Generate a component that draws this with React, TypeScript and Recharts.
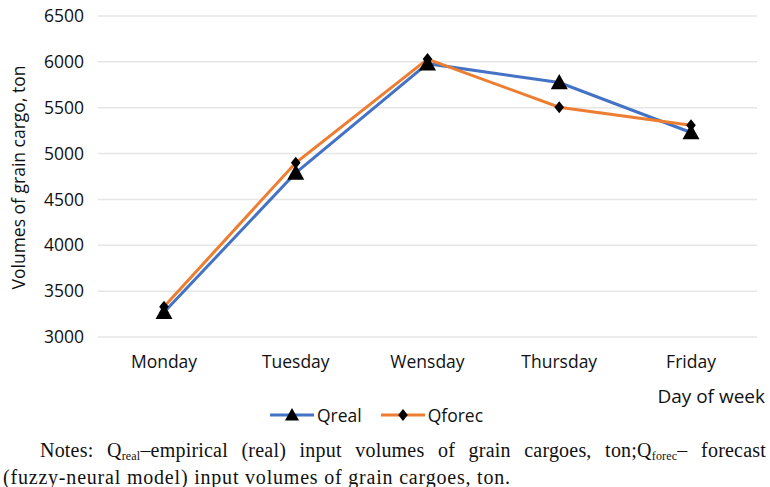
import { LineChart, Line, XAxis, YAxis, CartesianGrid, Legend } from 'recharts';

const days = ['Monday', 'Tuesday', 'Wensday', 'Thursday', 'Friday'];
const qReal = [3270, 4790, 5980, 5775, 5230];
const qForec = [3330, 4900, 6030, 5505, 5310];
const yTicks = [3000, 3500, 4000, 4500, 5000, 5500, 6000, 6500];

const data = days.map((day, i) => ({ day, qReal: qReal[i], qForec: qForec[i] }));

const BLUE = '#4472C4';
const ORANGE = '#ED7D31';
const FONT = '"Open Sans", "Noto Sans", sans-serif';
const SERIF = '"Liberation Serif", "Times New Roman", serif';
const TEXT = '#111';

const Triangle = ({ cx, cy, s = 8 }: { cx: number; cy: number; s?: number }) => (
    <polygon points={`${cx},${cy - s} ${cx - s},${cy + s * 0.8} ${cx + s},${cy + s * 0.8}`} fill="#000" />
);

const Diamond = ({ cx, cy, s = 6 }: { cx: number; cy: number; s?: number }) => (
    <polygon points={`${cx},${cy - s} ${cx + s * 0.8},${cy} ${cx},${cy + s} ${cx - s * 0.8},${cy}`} fill="#000" />
);

const triangleDot = (props: any) => <Triangle key={`t-${props.index}`} cx={props.cx} cy={props.cy} s={8.5} />;
const diamondDot = (props: any) => <Diamond key={`d-${props.index}`} cx={props.cx} cy={props.cy} />;

const LegendItem = ({ color, label, marker }: { color: string; label: string; marker: 'tri' | 'dia' }) => (
    <span style={{ display: 'inline-flex', alignItems: 'center', marginRight: 18 }}>
        <svg width={46} height={20}>
            <line x1={1} y1={10} x2={45} y2={10} stroke={color} strokeWidth={3} />
            {marker === 'tri' ? <Triangle cx={23} cy={10} s={7} /> : <Diamond cx={23} cy={10} s={6} />}
        </svg>
        <span style={{ marginLeft: 2 }}>{label}</span>
    </span>
);

const renderLegend = () => (
    <div
        style={{
            display: 'flex',
            justifyContent: 'center',
            alignItems: 'center',
            fontFamily: FONT,
            fontSize: 17.5,
            color: TEXT,
            height: 20,
        }}
    >
        <LegendItem color={BLUE} label="Qreal" marker="tri" />
        <LegendItem color={ORANGE} label="Qforec" marker="dia" />
    </div>
);

const subStyle = { fontSize: 12, verticalAlign: 'baseline', position: 'relative' as const, top: 3 };

export default function App() {
    return (
        <div style={{ position: 'absolute', left: 0, top: 0, width: 770, background: '#fff' }}>
            <LineChart width={770} height={430} data={data} margin={{ top: 16, right: 13, left: 0, bottom: 5 }}>
                <CartesianGrid vertical={false} stroke="#e6e6e6" strokeWidth={1.5} />
                <XAxis
                    dataKey="day"
                    height={68}
                    padding={{ left: 66, right: 66 }}
                    axisLine={false}
                    tickLine={false}
                    tickMargin={13}
                    tick={{ fontSize: 17.5, fill: TEXT, fontFamily: FONT }}
                    label={{
                        content: ({ viewBox }: any) => (
                            <text
                                x={viewBox.x + viewBox.width + 8}
                                y={viewBox.y + 66}
                                textAnchor="end"
                                fontSize={19}
                                fontFamily={FONT}
                                fill={TEXT}
                            >
                                Day of week
                            </text>
                        ),
                    }}
                />
                <YAxis
                    width={98}
                    domain={[3000, 6500]}
                    ticks={yTicks}
                    axisLine={false}
                    tickLine={false}
                    tickMargin={8}
                    tick={{ fontSize: 17.5, fill: TEXT, fontFamily: FONT }}
                    label={{
                        content: ({ viewBox }: any) => {
                            const cx = viewBox.x + 18;
                            const cy = viewBox.y + viewBox.height / 2 + 1;
                            return (
                                <text
                                    x={cx}
                                    y={cy}
                                    transform={`rotate(-90 ${cx} ${cy})`}
                                    textAnchor="middle"
                                    dominantBaseline="central"
                                    fontSize={17.5}
                                    fontFamily={FONT}
                                    fill={TEXT}
                                >
                                    Volumes of grain cargo, ton
                                </text>
                            );
                        },
                    }}
                />
                <Legend verticalAlign="bottom" height={20} content={renderLegend} wrapperStyle={{ left: 0, width: 770 }} />
                <Line
                    dataKey="qReal"
                    name="Qreal"
                    type="linear"
                    stroke={BLUE}
                    strokeWidth={3}
                    dot={triangleDot}
                    isAnimationActive={false}
                />
                <Line
                    dataKey="qForec"
                    name="Qforec"
                    type="linear"
                    stroke={ORANGE}
                    strokeWidth={3}
                    dot={diamondDot}
                    isAnimationActive={false}
                />
            </LineChart>
            <div
                style={{
                    marginTop: 8,
                    fontFamily: SERIF,
                    fontSize: 20,
                    lineHeight: '24px',
                    letterSpacing: 0.8,
                    color: '#111',
                    whiteSpace: 'nowrap',
                }}
            >
                {/* first line is stretched edge to edge, second line left as is */}
                <div
                    style={{
                        marginLeft: 40,
                        marginRight: 4,
                        textAlign: 'justify',
                        textAlignLast: 'justify',
                        whiteSpace: 'normal',
                        letterSpacing: 0.2,
                    }}
                >
                    Notes: Q<sub style={subStyle}>real</sub>–empirical (real) input volumes of grain cargoes, ton;Q
                    <sub style={subStyle}>forec</sub>– forecast
                </div>
                <div style={{ marginLeft: 3 }}>(fuzzy-neural model) input volumes of grain cargoes, ton.</div>
            </div>
        </div>
    );
}
